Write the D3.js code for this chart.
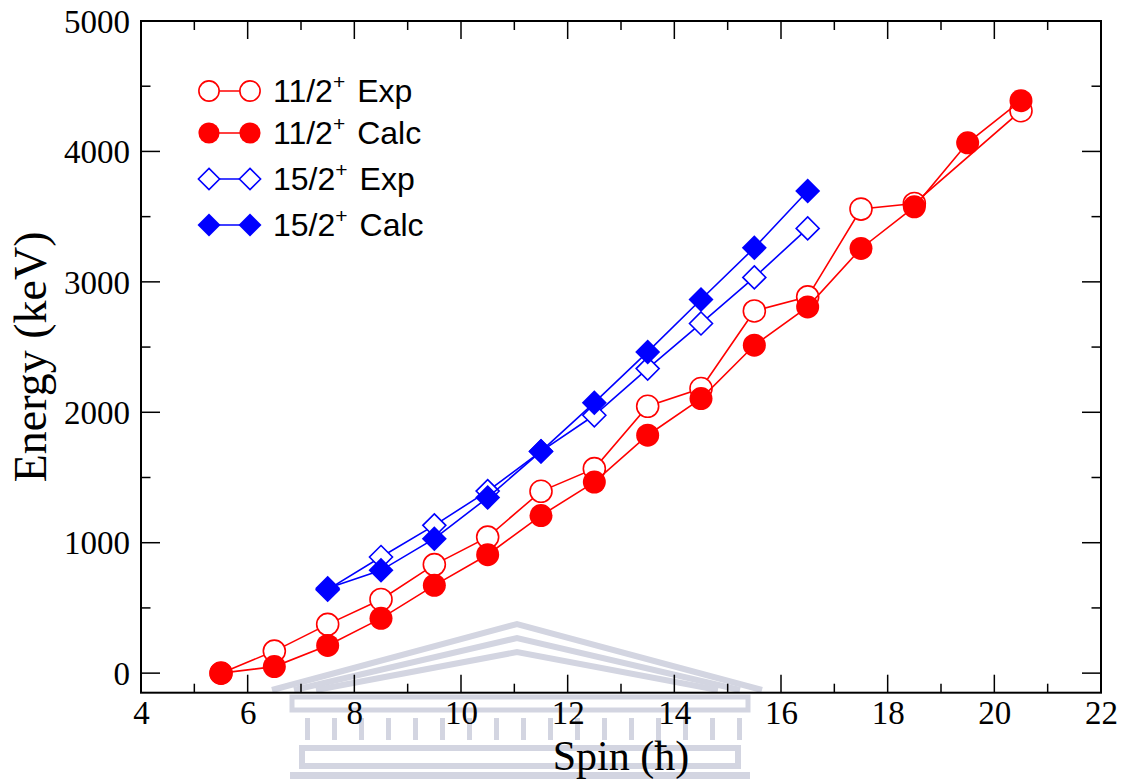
<!DOCTYPE html>
<html>
<head>
<meta charset="utf-8">
<script src="https://cdn.jsdelivr.net/npm/d3@7"></script>
<style>
  html, body { margin: 0; padding: 0; background: #fff; }
  svg { display: block; }
</style>
</head>
<body>
<svg id="chart" width="1127" height="779"></svg>
<script>
// ---------------- data ----------------
const spinsRed = [5.5, 6.5, 7.5, 8.5, 9.5, 10.5, 11.5, 12.5, 13.5, 14.5, 15.5, 16.5, 17.5, 18.5, 19.5, 20.5];
const exp112 = [0, 169, 374, 565, 832, 1043, 1394, 1568, 2046, 2182, 2777, 2885, 3558, 3601, null, 4312];
const calc112 = [0, 50, 212, 420, 673, 908, 1208, 1465, 1824, 2105, 2514, 2808, 3256, 3575, 4066, 4389];
const spinsBlue = [7.5, 8.5, 9.5, 10.5, 11.5, 12.5, 13.5, 14.5, 15.5, 16.5];
const exp152 = [640, 890, 1133, 1396, 1700, 1977, 2335, 2681, 3034, 3410];
const calc152 = [650, 788, 1031, 1346, 1701, 2074, 2463, 2865, 3261, 3696];
const xTicks = [4, 6, 8, 10, 12, 14, 16, 18, 20, 22];
const yTicks = [0, 1000, 2000, 3000, 4000, 5000];
const legendLabels = ["11/2", "11/2", "15/2", "15/2"];
const legendSuffix = ["Exp", "Calc", "Exp", "Calc"];

const series = [
  { xs: spinsRed, ys: exp112, color: "#ff0000", shape: "circle", filled: false },
  { xs: spinsRed, ys: calc112, color: "#ff0000", shape: "circle", filled: true },
  { xs: spinsBlue, ys: exp152, color: "#0000ff", shape: "diamond", filled: false },
  { xs: spinsBlue, ys: calc152, color: "#0000ff", shape: "diamond", filled: true }
];

// ---------------- layout ----------------
const svg = d3.select("#chart");
const L = 141, R = 1101, T = 21, B = 692.7;
const x = d3.scaleLinear().domain([4, 22]).range([L, R]);
const y = d3.scaleLinear().domain([-150, 5000]).range([B, T]);

const serif = "'Liberation Serif', 'Times New Roman', serif";
const sans = "'Liberation Sans', Arial, Helvetica, sans-serif";

// ---------------- faint watermark (decorative background) ----------------
const wmColor = "#d3d5e1";
const wm = svg.append("g").attr("fill", "none").attr("stroke", wmColor);
[0, 1, 2].forEach(i => {
  wm.append("polyline")
    .attr("points", `${272 + i * 22},${690} ${517},${624 + i * 14} ${762 - i * 22},${690}`)
    .attr("stroke-width", 6);
});
wm.append("rect").attr("x", 292).attr("y", 697).attr("width", 456).attr("height", 13).attr("stroke-width", 5);
d3.range(305, 745, 27).forEach(cx => {
  wm.append("rect").attr("x", cx).attr("y", 718).attr("width", 5).attr("height", 22)
    .attr("fill", wmColor).attr("stroke", "none");
});
wm.append("rect").attr("x", 302).attr("y", 748).attr("width", 436).attr("height", 18).attr("stroke-width", 6);
wm.append("rect").attr("x", 290).attr("y", 772).attr("width", 460).attr("height", 10)
  .attr("fill", wmColor).attr("stroke", "none");

// ---------------- frame & ticks ----------------
const axes = svg.append("g");
const xMinor = d3.range(5, 22, 2);
const yMinor = [500, 1500, 2500, 3500, 4500];

function tick(x1, y1, x2, y2) {
  axes.append("line").attr("x1", x1).attr("y1", y1).attr("x2", x2).attr("y2", y2)
    .attr("stroke", "#000").attr("stroke-width", 1.5);
}
xTicks.forEach(v => { tick(x(v), B, x(v), B - 18); tick(x(v), T, x(v), T + 18); });
xMinor.forEach(v => { tick(x(v), B, x(v), B - 9); tick(x(v), T, x(v), T + 9); });
yTicks.forEach(v => { tick(L, y(v), L + 19, y(v)); tick(R, y(v), R - 19, y(v)); });
yMinor.forEach(v => { tick(L, y(v), L + 9.5, y(v)); tick(R, y(v), R - 9.5, y(v)); });

axes.append("rect").attr("x", L).attr("y", T).attr("width", R - L).attr("height", B - T)
  .attr("fill", "none").attr("stroke", "#000").attr("stroke-width", 2);

// tick labels
const xAxisLab = svg.append("g")
  .attr("transform", `translate(0,${B})`)
  .call(d3.axisBottom(x).tickValues(xTicks).tickSize(0).tickPadding(0).tickFormat(d3.format("d")));
xAxisLab.select(".domain").remove();
xAxisLab.selectAll("text").attr("dy", null).attr("y", 31)
  .style("font-family", serif).style("font-size", "33px").attr("fill", "#000");

const yAxisLab = svg.append("g")
  .attr("transform", `translate(${L},0)`)
  .call(d3.axisLeft(y).tickValues(yTicks).tickSize(0).tickPadding(11).tickFormat(d3.format("d")));
yAxisLab.select(".domain").remove();
yAxisLab.selectAll("text").attr("dy", "0.34em")
  .style("font-family", serif).style("font-size", "33px").attr("fill", "#000");

// axis titles
svg.append("text").attr("x", (L + R) / 2).attr("y", 770).attr("text-anchor", "middle")
  .style("font-family", serif).style("font-size", "42px").text("Spin (ħ)");
svg.append("text").attr("transform", `translate(46,${(T + B) / 2}) rotate(-90)`).attr("text-anchor", "middle")
  .style("font-family", serif).style("font-size", "46px").text("Energy (keV)");

// ---------------- data marks ----------------
const plot = svg.append("g");
const diamond = s => `M0,${-s}L${s},0L0,${s}L${-s},0Z`;

function drawMarker(g, s, cx, cy, scale) {
  if (s.shape === "circle") {
    g.append("circle").attr("cx", cx).attr("cy", cy).attr("r", (s.filled ? 11.5 : 11) * scale)
      .attr("fill", s.filled ? s.color : "#fff").attr("stroke", s.color).attr("stroke-width", s.filled ? 0 : 1.6);
  } else {
    g.append("path").attr("transform", `translate(${cx},${cy})`).attr("d", diamond((s.filled ? 12.5 : 11.5) * scale))
      .attr("fill", s.filled ? s.color : "#fff").attr("stroke", s.color).attr("stroke-width", s.filled ? 0 : 1.6);
  }
}

series.forEach(s => {
  const pts = s.xs.map((v, i) => [v, s.ys[i]]).filter(p => p[1] !== null);
  const line = d3.line().x(p => x(p[0])).y(p => y(p[1]));
  plot.append("path").attr("d", line(pts)).attr("fill", "none").attr("stroke", s.color).attr("stroke-width", 1.6);
  pts.forEach(p => drawMarker(plot, s, x(p[0]), y(p[1]), 1));
});

// ---------------- legend ----------------
const legend = svg.append("g");
const rowY = [91, 133, 179, 225];
series.forEach((s, i) => {
  const cy = rowY[i];
  legend.append("line").attr("x1", 209).attr("x2", 250).attr("y1", cy).attr("y2", cy)
    .attr("stroke", s.color).attr("stroke-width", 1.6);
  drawMarker(legend, s, 209, cy, 0.92);
  drawMarker(legend, s, 250, cy, 0.92);
  const t = legend.append("text").attr("x", 273).attr("y", cy + 11)
    .style("font-family", sans).style("font-size", "32px").attr("fill", "#000");
  t.append("tspan").text(legendLabels[i]);
  t.append("tspan").attr("dy", -13).style("font-size", "21px").text("+");
  t.append("tspan").attr("dy", 13).attr("dx", 12).text(legendSuffix[i]);
});
</script>
</body>
</html>
